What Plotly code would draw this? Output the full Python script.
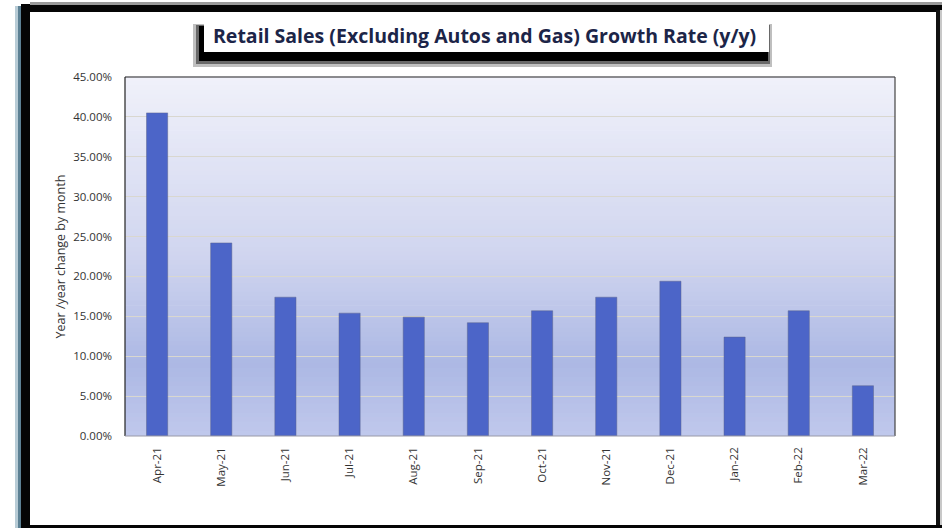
import plotly.graph_objects as go

months = ["Apr-21", "May-21", "Jun-21", "Jul-21", "Aug-21", "Sep-21",
          "Oct-21", "Nov-21", "Dec-21", "Jan-22", "Feb-22", "Mar-22"]
growth = [0.405, 0.242, 0.174, 0.154, 0.149, 0.142,
          0.157, 0.174, 0.194, 0.124, 0.157, 0.063]
y_ticks = [0.0, 0.05, 0.10, 0.15, 0.20, 0.25, 0.30, 0.35, 0.40, 0.45]

W, H = 942, 528
L, R, T, B = 125, 895, 77, 436


def px_x(p):
    return (p - L) / (R - L)


def px_y(p):
    return (B - p) / (B - T)


fig = go.Figure()
fig.add_trace(go.Bar(
    x=months, y=growth,
    marker=dict(color="#4C65C8", line=dict(color="rgba(90,100,140,0.6)", width=0.8)),
    width=0.33,
))

shapes = []
stops = [(0.0, (240, 241, 250)), (0.5, (208, 213, 239)), (0.8, (172, 184, 228)), (1.0, (192, 200, 236))]


def col(t):
    for (a, ca), (b, cb) in zip(stops[:-1], stops[1:]):
        if a <= t <= b:
            f = (t - a) / (b - a)
            return "rgb(%d,%d,%d)" % tuple(round(ca[i] + (cb[i] - ca[i]) * f) for i in range(3))
    return "rgb(%d,%d,%d)" % stops[-1][1]


N = 80
for i in range(N):
    t0 = i / N
    t1 = (i + 1) / N
    shapes.append(dict(type="rect", xref="x domain", yref="y domain",
                       x0=0, x1=1, y0=1 - t1, y1=1 - t0 + 0.002,
                       fillcolor=col((t0 + t1) / 2), line=dict(width=0), layer="below"))

shapes.append(dict(type="line", xref="x domain", yref="y domain", x0=0, x1=0, y0=0, y1=1,
                   line=dict(color="#222222", width=1.2)))
shapes.append(dict(type="line", xref="x domain", yref="y domain", x0=0, x1=1, y0=1, y1=1,
                   line=dict(color="#222222", width=1.2)))
shapes.append(dict(type="line", xref="x domain", yref="y domain", x0=1, x1=1, y0=0, y1=1,
                   line=dict(color="#444444", width=1.2)))
shapes.append(dict(type="line", xref="x domain", yref="y domain", x0=0, x1=1, y0=0, y1=0,
                   line=dict(color="#9a9aa8", width=1.2)))


def prect(x0, x1, y0, y1, color):
    shapes.append(dict(type="rect", xref="paper", yref="paper",
                       x0=px_x(x0), x1=px_x(x1), y0=px_y(y1), y1=px_y(y0),
                       fillcolor=color, line=dict(width=0)))


prect(15, 18, 6, 528, "#b8ccd6")
prect(18, 21, 6, 528, "#5d8194")
prect(21, 30, 4, 528, "#050505")
prect(21, 942, 4, 12, "#050505")
prect(30, 942, 2, 5, "#9a9a9a")
prect(936, 940, 10, 528, "#111111")
prect(940, 942, 10, 528, "#c8c8c8")
prect(21, 942, 525, 528, "#050505")

# title box with blurred shadow
prect(193, 772, 24, 67, "rgba(0,0,0,0.25)")
prect(196, 770, 25, 64, "rgba(0,0,0,0.45)")
prect(199, 768, 26, 61, "#000000")
prect(204, 769, 20, 52, "#ffffff")

fig.add_annotation(text="<b>Retail Sales (Excluding Autos and Gas) Growth Rate (y/y)</b>",
                   xref="paper", yref="paper", x=px_x(484), y=px_y(36),
                   showarrow=False, xanchor="center", yanchor="middle",
                   font=dict(family="Open Sans, Liberation Sans", size=19.5, color="#1c2548"))

fig.update_layout(
    width=W, height=H,
    margin=dict(l=L, r=W - R, t=T, b=H - B, pad=0),
    paper_bgcolor="#ffffff",
    plot_bgcolor="rgba(0,0,0,0)",
    showlegend=False,
    shapes=shapes,
    font=dict(family="Open Sans, Liberation Sans", size=11.5, color="#333333"),
)
fig.update_xaxes(tickangle=-90, showgrid=False, showline=False, ticks="",
                 tickfont=dict(size=11.5, color="#333333"), ticklabelstandoff=8)
fig.update_yaxes(range=[0, 0.45], tickvals=y_ticks, tickformat=".2%",
                 showgrid=True, gridcolor="#d9d7cf", gridwidth=1, zeroline=False,
                 showline=False, ticks="", ticklabelstandoff=12,
                 title=dict(text="Year /year change by month", font=dict(size=12.5, color="#333333"), standoff=4),
                 tickfont=dict(size=11.5, color="#333333"))

fig.write_html("out.html", config={"displayModeBar": False},
               post_script="document.body.style.margin='0';")
